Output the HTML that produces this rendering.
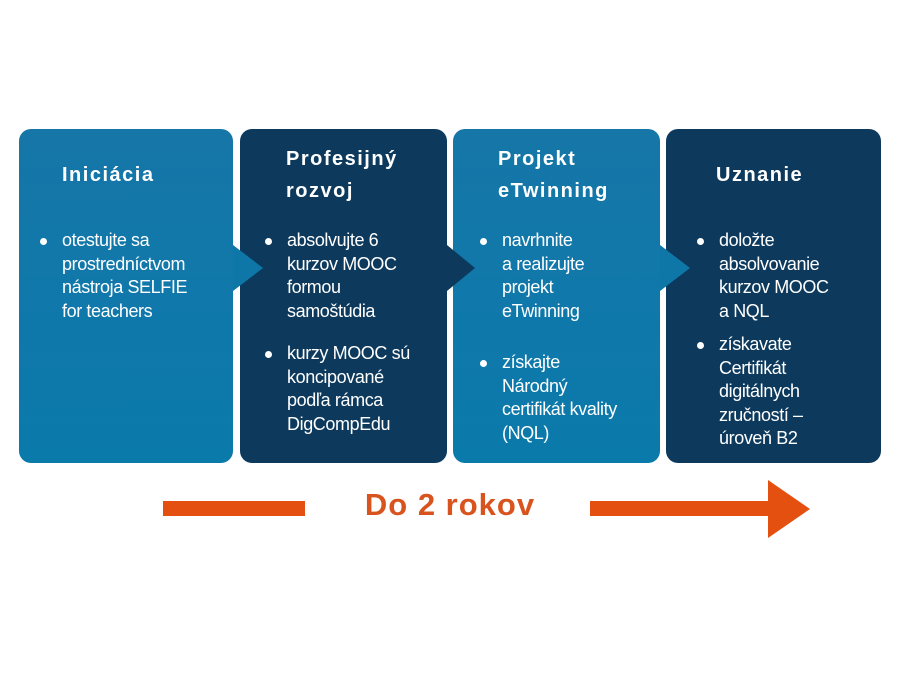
<!DOCTYPE html>
<html><head><meta charset="utf-8"><style>
body{margin:0;width:900px;height:700px;background:#fff;position:relative;overflow:hidden;font-family:"Liberation Sans",sans-serif}
.box{position:absolute;top:129px;height:334px;border-radius:12px}
.l{background:linear-gradient(#1676a8,#0a7aab)}
.d{background:#0d3a5c}
.t{position:absolute;color:#fff;font-weight:bold;font-size:20px;letter-spacing:1.5px;line-height:32px}
.b{position:absolute;color:#fff;font-size:18px;line-height:23.5px;letter-spacing:-0.4px;white-space:nowrap}
.b div{position:relative;margin-bottom:10px}
.b div:before{content:"";position:absolute;left:-22px;top:9px;width:7px;height:7px;border-radius:50%;background:#fff}
.tri{position:absolute;width:0;height:0;border-top:23px solid transparent;border-bottom:23px solid transparent}
</style></head><body>
<div class="box l" style="left:19px;width:214px"></div>
<div class="box d" style="left:240px;width:207px"></div>
<div class="box l" style="left:453px;width:207px"></div>
<div class="box d" style="left:666px;width:215px"></div>
<div class="tri" style="left:233px;top:245px;border-left:30px solid #0e77a8"></div>
<div class="tri" style="left:447px;top:245px;border-left:28px solid #0d3a5c"></div>
<div class="tri" style="left:660px;top:245px;border-left:30px solid #0e77a8"></div>

<div class="t" style="left:62px;top:159px">Iniciácia</div>
<div class="t" style="left:286px;top:143px">Profesijný<br>rozvoj</div>
<div class="t" style="left:498px;top:143px">Projekt<br>eTwinning</div>
<div class="t" style="left:716px;top:159px">Uznanie</div>

<div class="b" style="left:62px;top:229px"><div>otestujte sa<br>prostredníctvom<br>nástroja SELFIE<br>for teachers</div></div>
<div class="b" style="left:287px;top:229px"><div style="margin-bottom:19px">absolvujte 6<br>kurzov MOOC<br>formou<br>samoštúdia</div><div>kurzy MOOC sú<br>koncipované<br>podľa rámca<br>DigCompEdu</div></div>
<div class="b" style="left:502px;top:229px"><div style="margin-bottom:28px">navrhnite<br>a realizujte<br>projekt<br>eTwinning</div><div>získajte<br>Národný<br>certifikát kvality<br>(NQL)</div></div>
<div class="b" style="left:719px;top:229px"><div>doložte<br>absolvovanie<br>kurzov MOOC<br>a NQL</div><div>získavate<br>Certifikát<br>digitálnych<br>zručností –<br>úroveň B2</div></div>

<div style="position:absolute;left:163px;top:501px;width:142px;height:15px;background:#e4500f"></div>
<div style="position:absolute;left:590px;top:501px;width:182px;height:15px;background:#e4500f"></div>
<div style="position:absolute;left:768px;top:480px;width:0;height:0;border-top:29px solid transparent;border-bottom:29px solid transparent;border-left:42px solid #e4500f"></div>
<div style="position:absolute;left:330px;top:486px;width:240px;text-align:center;color:#d9531e;font-weight:bold;font-size:31px;letter-spacing:1px;line-height:38px">Do 2 rokov</div>
</body></html>
